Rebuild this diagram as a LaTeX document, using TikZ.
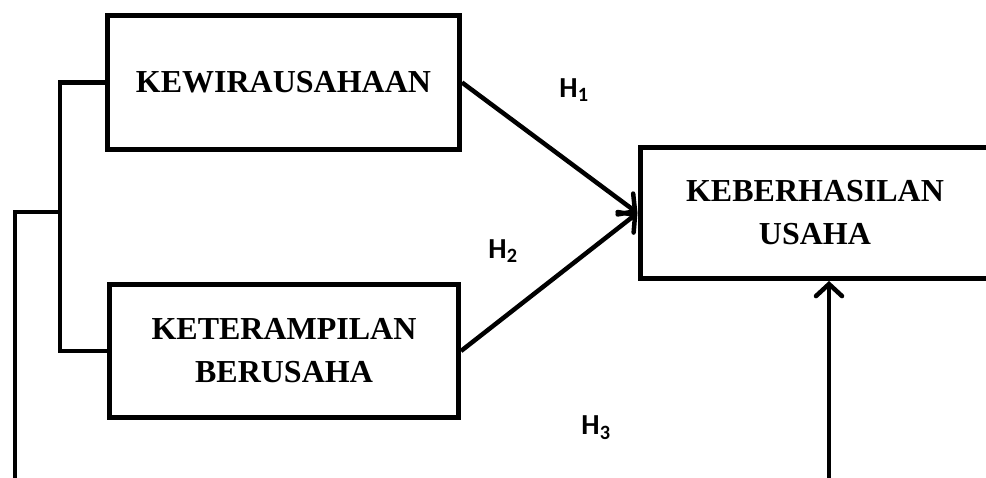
\documentclass[tikz,border=0pt]{standalone}
\usepackage{fontspec}
\setmainfont{Liberation Serif}
\newfontfamily\hfont{Carlito}
\usetikzlibrary{arrows.meta}

\tikzset{
	box/.style={shape=rectangle, draw=black, line width=5pt, align=center,
		font=\fontsize{32}{43}\selectfont\bfseries},
	hyp/.style={font=\fontsize{29}{32}\selectfont\hfont\bfseries, inner sep=0pt},
	link/.style={line width=4.5pt},
	arr/.style={line width=4.5pt, -{Straight Barb[length=12pt, width=26pt, line cap=round]}}
}

\begin{document}
\begin{tikzpicture}[x=1pt, y=-1pt]
	
	\useasboundingbox (0,0) rectangle (986,477);
	\clip (0,0) rectangle (986,477);
	
	\node[box, minimum width=352pt, minimum height=134pt] (a) at (283.5, 82.5) {KEWIRAUSAHAAN};
	\node[box, minimum width=349pt, minimum height=133pt] (b) at (284, 351)  {KETERAMPILAN\\BERUSAHA};
	\node[box, minimum width=350pt, minimum height=131pt] (c) at (815, 213)  {KEBERHASILAN\\USAHA};
	
	\node[hyp] (h1) at (574, 90)  {H\textsubscript{1}};
	\node[hyp] (h2) at (503, 251) {H\textsubscript{2}};
	\node[hyp] (h3) at (596, 428) {H\textsubscript{3}};
	
	\coordinate (j) at (60, 212);
	\coordinate (l) at (15, 490);
	\coordinate (r) at (829, 490);
	
	\draw[link] (a.west) -- (a.west -| j) -- (b.west -| j) -- (b.west);
	\draw[link] (j) -| (l);
	
	\draw[arr] (a.east) -- (c.west);
	\draw[arr] (b.east) -- (c.west);
	\draw[arr] (r) -- (r |- c.south);
	
\end{tikzpicture}
\end{document}
